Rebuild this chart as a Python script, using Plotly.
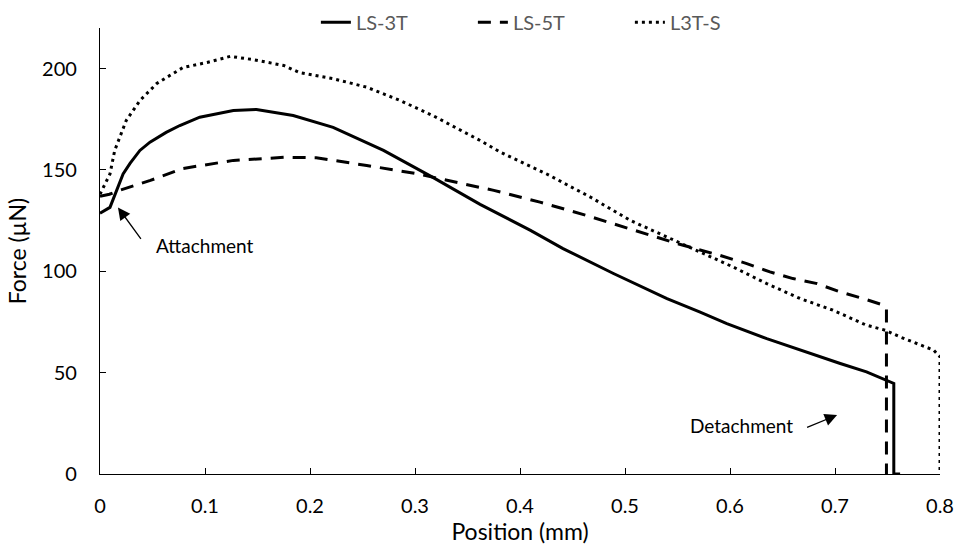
import plotly.graph_objects as go

# ---- data ----
ls3t_x = [0, 0.0095, 0.022, 0.0286, 0.038, 0.0476, 0.063, 0.076, 0.095, 0.111, 0.127, 0.149, 0.184,
          0.222, 0.27, 0.317, 0.362, 0.41, 0.441, 0.489, 0.540, 0.571, 0.597, 0.635, 0.667, 0.705,
          0.730, 0.749, 0.756, 0.756, 0.762]
ls3t_y = [128.6, 131.5, 148, 153.2, 159.6, 163.7, 168.5, 171.9, 176, 177.7, 179.3, 179.8, 176.8,
          171, 159.6, 146.3, 133, 120.2, 111.2, 98.9, 86.5, 80, 74.2, 66.8, 61.1, 54.5,
          50.4, 46.3, 44.7, 0, 0]

ls5t_x = [0, 0.009, 0.019, 0.048, 0.079, 0.127, 0.175, 0.206, 0.254, 0.302, 0.375, 0.419, 0.463,
          0.508, 0.552, 0.59, 0.616, 0.638, 0.660, 0.683, 0.705, 0.727, 0.744, 0.749, 0.749]
ls5t_y = [137, 138, 140, 144.8, 150.7, 154.7, 156.2, 156, 152.2, 148.1, 139.9, 134.1, 127.6,
          120.2, 113.3, 107.9, 103.8, 99.7, 96.4, 93.9, 89.8, 86.5, 83.7, 81.6, 0]

l3ts_x = [0, 0.0095, 0.014, 0.025, 0.038, 0.054, 0.079, 0.102, 0.124, 0.146, 0.175, 0.19, 0.222,
          0.254, 0.286, 0.317, 0.362, 0.381, 0.425, 0.467, 0.505, 0.533, 0.571, 0.603, 0.635, 0.667,
          0.698, 0.73, 0.748, 0.762, 0.794, 0.8, 0.8]
l3ts_y = [138, 148, 159.6, 174.4, 184.2, 192.6, 200.5, 203, 206, 204.4, 201.5, 198, 195,
          190.8, 184.2, 176.8, 164.5, 158.8, 148.1, 136.6, 125.1, 118.6, 109.5, 102.1, 93.9, 86.5,
          80.8, 73.4, 70.9, 67.6, 61.1, 57.8, 0]

series_names = ["LS-3T", "LS-5T", "L3T-S"]
x_ticks = [0, 0.1, 0.2, 0.3, 0.4, 0.5, 0.6, 0.7, 0.8]
x_tick_text = ["0", "0.1", "0.2", "0.3", "0.4", "0.5", "0.6", "0.7", "0.8"]
y_ticks = [0, 50, 100, 150, 200]

FONT = "Lato"

fig = go.Figure()
fig.add_trace(go.Scatter(x=ls3t_x, y=ls3t_y, name=series_names[0], mode="lines",
                         line=dict(color="black", width=3)))
fig.add_trace(go.Scatter(x=ls5t_x, y=ls5t_y, name=series_names[1], mode="lines",
                         line=dict(color="black", width=3, dash="13px,9px")))
fig.add_trace(go.Scatter(x=l3ts_x, y=l3ts_y, name=series_names[2], mode="lines",
                         line=dict(color="black", width=3, dash="3px,4px")))

fig.update_layout(
    width=957, height=546,
    margin=dict(l=100, r=17, t=28, b=72, autoexpand=False),
    paper_bgcolor="white", plot_bgcolor="white",
    font=dict(family=FONT, size=20, color="black"),
    showlegend=True,
    legend=dict(orientation="h", x=0.257, xanchor="left", y=1.013, yanchor="middle",
                font=dict(family=FONT, size=20, color="#595959"),
                entrywidth=112, bgcolor="rgba(0,0,0,0)", tracegroupgap=0),
    xaxis=dict(range=[0, 0.8], tickvals=x_ticks, ticktext=x_tick_text,
               showgrid=False, zeroline=False, showline=True, linecolor="black", linewidth=1.2,
               ticks="inside", ticklen=6, tickcolor="black", tickwidth=1.2,
               ticklabelstandoff=14,
               title=dict(text="Position (mm)", font=dict(family=FONT, size=23), standoff=3)),
    yaxis=dict(range=[0, 220], tickvals=y_ticks,
               showgrid=False, zeroline=False, showline=True, linecolor="black", linewidth=1.2,
               ticks="inside", ticklen=6, tickcolor="black", tickwidth=1.2,
               ticklabelstandoff=18,
               title=dict(text="Force (µN)", font=dict(family=FONT, size=23), standoff=9)),
    annotations=[
        dict(x=0.0171, y=131.5, ax=0.04, ay=115.3, axref="x", ayref="y", xref="x", yref="y",
             text="", showarrow=True, arrowhead=2, arrowsize=1.9, arrowwidth=1.3, arrowcolor="black"),
        dict(x=0.10, y=112.8, xref="x", yref="y", text="Attachment", showarrow=False,
             font=dict(family=FONT, size=19, color="black")),
        dict(x=0.702, y=29.1, ax=0.672, ay=22.7, axref="x", ayref="y", xref="x", yref="y",
             text="", showarrow=True, arrowhead=2, arrowsize=1.9, arrowwidth=1.3, arrowcolor="black"),
        dict(x=0.611, y=24.1, xref="x", yref="y", text="Detachment", showarrow=False,
             font=dict(family=FONT, size=19, color="black")),
    ],
)

fig.write_html("out.html", config={"displayModeBar": False},
               post_script="document.body.style.margin='0';document.body.style.overflow='hidden';")
